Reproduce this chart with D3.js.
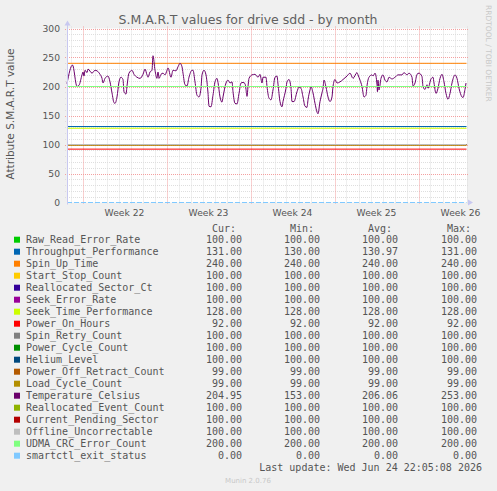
<!doctype html>
<html>
  <head>
    <meta charset="utf-8">
    <title>S.M.A.R.T values for drive sdd - by month</title>
    <script src="https://cdnjs.cloudflare.com/ajax/libs/d3/7.8.5/d3.min.js"></script>
    <style>
      body { margin: 0; background: #f0f0f0; }
      svg { display: block; }
    </style>
  </head>
  <body>
    <div id="chart"></div>
    <script>
    // legend / series
    let seriesNames = ["Raw_Read_Error_Rate", "Throughput_Performance", "Spin_Up_Time", "Start_Stop_Count",
      "Reallocated_Sector_Ct", "Seek_Error_Rate", "Seek_Time_Performance", "Power_On_Hours",
      "Spin_Retry_Count", "Power_Cycle_Count", "Helium_Level", "Power_Off_Retract_Count",
      "Load_Cycle_Count", "Temperature_Celsius", "Reallocated_Event_Count", "Current_Pending_Sector",
      "Offline_Uncorrectable", "UDMA_CRC_Error_Count", "smartctl_exit_status"];
    let seriesColors = ["#00cc00", "#0066b3", "#ff8000", "#ffcc00", "#330099", "#990099", "#ccff00", "#ff0000",
      "#808080", "#008f00", "#00487d", "#b35a00", "#b38f00", "#6b006b", "#8fb300", "#b30000",
      "#bebebe", "#80ff80", "#80c9ff"];
    let curValues = [100, 131, 240, 100, 100, 100, 128, 92, 100, 100, 100, 99, 99, 204.95, 100, 100, 100, 200, 0];
    let minValues = [100, 130, 240, 100, 100, 100, 128, 92, 100, 100, 100, 99, 99, 153, 100, 100, 100, 200, 0];
    let avgValues = [100, 130.97, 240, 100, 100, 100, 128, 92, 100, 100, 100, 99, 99, 206.06, 100, 100, 100, 200, 0];
    let maxValues = [100, 131, 240, 100, 100, 100, 128, 92, 100, 100, 100, 99, 99, 253, 100, 100, 100, 200, 0];

    // temperature series (hours since start of graph, value)
    let tempHours = [0, 11, 20, 24, 30, 32, 34, 36, 40, 42, 50, 56, 60, 66, 70, 72, 76, 82, 86, 90, 94, 96, 100, 104,
      108, 112, 114, 118, 120, 124, 130, 134, 140, 146, 152, 156, 160, 162, 166, 170, 172, 176, 180, 182, 184, 188,
      192, 196, 200, 202, 208, 212, 218, 222, 226, 230, 232, 236, 240, 244, 250, 252, 256, 260, 264, 268, 270, 274,
      278, 282, 284, 288, 292, 296, 300, 302, 306, 310, 312, 318, 322, 326, 330, 332, 336, 340, 344, 348, 352, 356,
      358, 360, 362, 364, 370, 376, 382, 386, 390, 392, 398, 400, 404, 408, 412, 416, 420, 422, 426, 430, 432, 438,
      440, 444, 448, 450, 454, 460, 464, 468, 472, 476, 480, 482, 486, 488, 492, 496, 500, 502, 506, 510, 512, 514,
      518, 522, 526, 530, 532, 536, 540, 546, 552, 560, 566, 572, 580, 582, 586, 590, 594, 598, 600, 604, 610, 612,
      616, 620, 621, 622, 624, 628, 632, 636, 640, 644, 650, 656, 662, 670, 674, 680, 684, 690, 692, 696, 700, 704,
      710, 712, 716, 720, 722, 728, 732, 734, 738, 742, 746, 750, 754, 758, 762, 766, 770, 776, 780, 784, 790, 792,
      796, 798];
    let tempValues = [205, 237, 200, 202, 220, 225, 218, 228, 224, 230, 223, 228, 227, 221, 214, 206, 214, 218, 208, 189,
      172, 171, 182, 208, 216, 212, 191, 187, 201, 223, 228, 221, 216, 214, 221, 230, 220, 216, 225, 228, 253, 228,
      214, 225, 214, 221, 223, 220, 228, 232, 216, 228, 227, 234, 240, 234, 223, 203, 201, 216, 228, 228, 208, 185,
      182, 197, 220, 228, 220, 189, 166, 165, 185, 208, 214, 207, 182, 173, 182, 206, 211, 206, 208, 191, 171, 170,
      188, 206, 207, 205, 195, 183, 200, 214, 220, 221, 216, 221, 206, 216, 216, 200, 180, 177, 194, 216, 218, 204,
      174, 165, 174, 197, 208, 212, 197, 174, 174, 191, 199, 197, 182, 166, 164, 177, 194, 200, 189, 171, 156, 153,
      174, 189, 197, 211, 199, 182, 174, 182, 200, 212, 206, 208, 212, 218, 223, 214, 224, 220, 211, 200, 182, 185,
      201, 216, 220, 218, 223, 203, 191, 211, 194, 214, 220, 211, 208, 216, 213, 216, 220, 220, 224, 220, 223, 216,
      201, 206, 221, 223, 217, 200, 195, 203, 197, 213, 216, 206, 188, 197, 214, 221, 208, 188, 178, 188, 206, 220,
      214, 197, 182, 181, 195, 206];

    let yTicks = [0, 50, 100, 150, 200, 250, 300];
    let weekStarts = [31, 199, 367, 535, 703];   // hours
    let weekLabels = ["Week 22", "Week 23", "Week 24", "Week 25", "Week 26"];
    let graphHours = 800;

    const W = 497, H = 491;
    const plotLeft = 67, plotRight = 467, plotTop = 28.5, plotBottom = 202.5;
    const sans = "'DejaVu Sans', sans-serif", mono = "'DejaVu Sans Mono', monospace";
    const textColor = "#555";

    let svg = d3.select("#chart").append("svg").attr("width", W).attr("height", H);
    svg.append("rect").attr("width", W).attr("height", H).attr("fill", "#f0f0f0");

    let x = d3.scaleLinear().domain([0, graphHours]).range([plotLeft, plotRight]);
    let y = d3.scaleLinear().domain([0, 300]).range([plotBottom, plotTop]);

    // plot canvas
    svg.append("rect").attr("x", plotLeft).attr("y", plotTop).attr("width", plotRight - plotLeft)
      .attr("height", plotBottom - plotTop).attr("fill", "#fff");

    let grid = svg.append("g");
    // minor horizontal grid every 10
    grid.selectAll(".hmin").data(d3.range(10, 300, 10).filter(v => v % 50 !== 0)).join("line")
      .attr("x1", plotLeft - 2).attr("x2", plotRight + 2)
      .attr("y1", d => Math.round(y(d)) + 0.5).attr("y2", d => Math.round(y(d)) + 0.5)
      .attr("stroke", "#dedede").attr("stroke-dasharray", "1,1");
    // minor vertical grid every day
    let dayLines = d3.range(weekStarts[0] - 24, graphHours, 24).filter(h => (h - weekStarts[0]) % 168 !== 0);
    grid.selectAll(".vmin").data(dayLines).join("line")
      .attr("x1", d => Math.round(x(d)) + 0.5).attr("x2", d => Math.round(x(d)) + 0.5)
      .attr("y1", plotTop - 2).attr("y2", plotBottom + 2)
      .attr("stroke", "#dedede").attr("stroke-dasharray", "1,1");
    // major grid
    grid.selectAll(".hmaj").data(yTicks.filter(v => v > 0)).join("line")
      .attr("x1", plotLeft - 2).attr("x2", plotRight + 2)
      .attr("y1", d => Math.round(y(d)) + 0.5).attr("y2", d => Math.round(y(d)) + 0.5)
      .attr("stroke", "#f3a0a0").attr("stroke-dasharray", "1,1");
    grid.selectAll(".vmaj").data(weekStarts).join("line")
      .attr("x1", d => Math.round(x(d)) + 0.5).attr("x2", d => Math.round(x(d)) + 0.5)
      .attr("y1", plotTop - 2).attr("y2", plotBottom + 2)
      .attr("stroke", "#f3a0a0").attr("stroke-dasharray", "1,1");

    // y tick labels
    svg.selectAll(".ytick").data(yTicks).join("text")
      .attr("x", plotLeft - 7).attr("y", d => y(d) + 3.5)
      .attr("text-anchor", "end").attr("font-family", sans).attr("font-size", 9.2)
      .attr("fill", textColor).text(d => d);

    // x labels, centered in the week
    svg.selectAll(".xtick").data(weekStarts).join("text")
      .attr("x", d => x(d + 84)).attr("y", plotBottom + 13)
      .attr("text-anchor", "middle").attr("font-family", sans).attr("font-size", 9.2)
      .attr("fill", textColor).text((d, i) => weekLabels[i]);

    // series lines, drawn in legend order
    let plot = svg.append("g");
    let line = d3.line().x(d => x(d[0])).y(d => y(d[1])).curve(d3.curveMonotoneX);
    seriesNames.forEach((name, i) => {
      let pts;
      if (name === "Temperature_Celsius") {
        pts = tempHours.map((h, k) => [h, tempValues[k]]);
      } else {
        pts = [[0, curValues[i]], [graphHours - 1, curValues[i]]];
      }
      plot.append("path").datum(pts)
        .attr("d", line)
        .attr("fill", "none")
        .attr("stroke", seriesColors[i])
        .attr("stroke-width", 1)
        .attr("stroke-dasharray", name === "smartctl_exit_status" ? "5,2" : null);
    });

    // axes with arrows
    let axisColor = "#c8c8f0";
    svg.append("line").attr("x1", plotLeft + 0.5).attr("x2", plotLeft + 0.5)
      .attr("y1", plotBottom + 2).attr("y2", plotTop - 4).attr("stroke", axisColor);
    svg.append("path")
      .attr("d", `M${plotLeft - 2.5},${plotTop - 3}L${plotLeft + 3.5},${plotTop - 3}L${plotLeft + 0.5},${plotTop - 8}Z`)
      .attr("fill", axisColor);
    svg.append("path")
      .attr("d", `M${plotRight + 1},${plotBottom - 3}L${plotRight + 1},${plotBottom + 3}L${plotRight + 6},${plotBottom}Z`)
      .attr("fill", axisColor);

    // title
    svg.append("text").attr("x", 248).attr("y", 24)
      .attr("text-anchor", "middle").attr("font-family", sans).attr("font-size", 12.5)
      .attr("fill", "#606060").text("S.M.A.R.T values for drive sdd - by month");

    // y axis title
    svg.append("text").attr("transform", "translate(14,114) rotate(-90)")
      .attr("text-anchor", "middle").attr("font-family", sans).attr("font-size", 10.5)
      .attr("fill", textColor).text("Attribute S.M.A.R.T value");

    // watermark
    svg.append("text").attr("transform", "translate(486,5) rotate(90)")
      .attr("font-family", sans).attr("font-size", 7.5)
      .attr("fill", "#c8c8c8").text("RRDTOOL / TOBI OETIKER");

    // legend
    let legend = svg.append("g").attr("font-family", mono).attr("font-size", 10).attr("fill", textColor);
    let colEnds = [242, 320, 398, 477];
    let heads = ["Cur:", "Min:", "Avg:", "Max:"];
    legend.selectAll(".head").data(heads).join("text")
      .attr("x", (d, i) => colEnds[i] - 6).attr("y", 231.5)
      .attr("text-anchor", "end").text(d => d);
    let rows = legend.selectAll(".row").data(seriesNames).join("g")
      .attr("transform", (d, i) => `translate(0,${239.7 + i * 12})`);
    rows.append("rect").attr("x", 14).attr("y", -3).attr("width", 6).attr("height", 6)
      .attr("fill", (d, i) => seriesColors[i]);
    rows.append("text").attr("x", 26).attr("y", 3.5).text(d => d);
    [curValues, minValues, avgValues, maxValues].forEach((vals, c) => {
      rows.append("text").attr("x", colEnds[c]).attr("y", 3.5).attr("text-anchor", "end")
        .text((d, i) => vals[i].toFixed(2));
    });
    legend.append("text").attr("x", 482).attr("y", 470.5).attr("text-anchor", "end")
      .text("Last update: Wed Jun 24 22:05:08 2026");

    svg.append("text").attr("x", 248).attr("y", 482.5).attr("text-anchor", "middle")
      .attr("font-family", sans).attr("font-size", 7).attr("fill", "#c8c8c8").text("Munin 2.0.76");
    </script>
  </body>
</html>
